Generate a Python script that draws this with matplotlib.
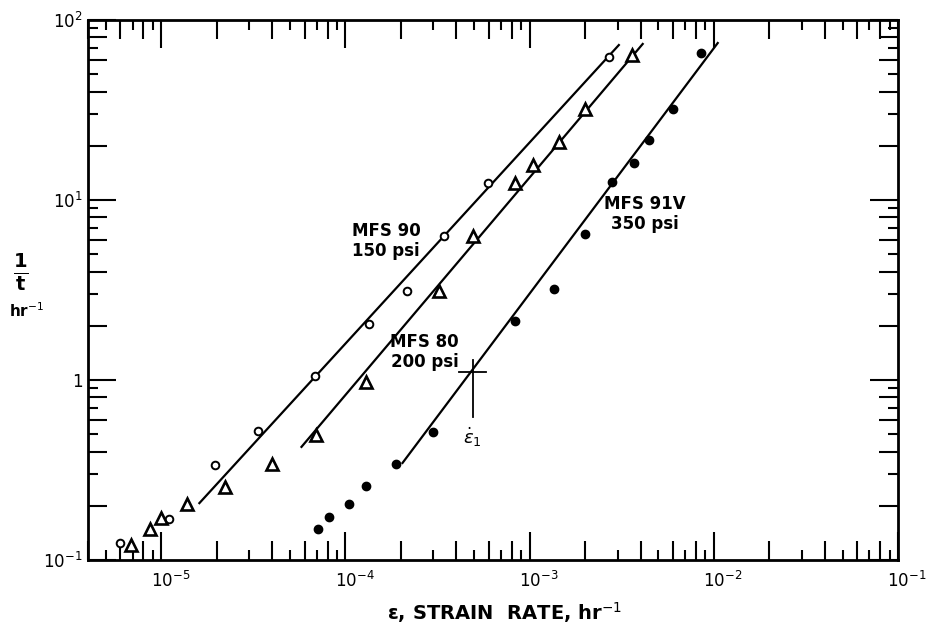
import numpy as np
import matplotlib
matplotlib.use("Agg")
import matplotlib.pyplot as plt
from matplotlib.ticker import LogLocator, NullFormatter
import matplotlib.transforms as mtransforms

plt.rcParams['font.family'] = ['DejaVu Sans']
plt.rcParams['mathtext.fontset'] = 'dejavusans'

# ---- data ----
# MFS 90, 150 psi (open circles)
mfs90_rate = [5.98e-6, 1.10e-5, 1.96e-5, 3.37e-5, 6.87e-5, 1.35e-4, 2.17e-4, 3.41e-4, 5.92e-4, 2.69e-3]
mfs90_inv_t = [0.124, 0.169, 0.337, 0.521, 1.05, 2.05, 3.12, 6.31, 12.4, 62.3]
mfs90_fit_rate = [1.61e-5, 3.05e-3]
mfs90_fit_inv_t = [0.207, 72.6]

# MFS 80, 200 psi (open triangles)
mfs80_rate = [6.87e-6, 8.71e-6, 1.0e-5, 1.38e-5, 2.23e-5, 4.01e-5, 6.95e-5, 1.29e-4,
              3.20e-4, 4.90e-4, 8.28e-4, 1.04e-3, 1.44e-3, 2.01e-3, 3.58e-3]
mfs80_inv_t = [0.121, 0.149, 0.171, 0.205, 0.255, 0.341, 0.494, 0.975,
               3.12, 6.31, 12.4, 15.7, 21.0, 32.0, 63.9]
mfs80_fit_rate = [5.77e-5, 4.11e-3]
mfs80_fit_inv_t = [0.425, 73.6]

# MFS 91V, 350 psi (filled circles)
mfs91v_rate = [7.05e-5, 8.19e-5, 1.04e-4, 1.30e-4, 1.89e-4, 2.97e-4, 8.28e-4,
               1.35e-3, 1.99e-3, 2.79e-3, 3.67e-3, 4.44e-3, 5.99e-3, 8.49e-3]
mfs91v_inv_t = [0.149, 0.173, 0.205, 0.258, 0.341, 0.514, 2.13,
                3.20, 6.47, 12.6, 16.1, 21.5, 32.0, 65.6]
mfs91v_fit_rate = [2.04e-4, 1.05e-2]
mfs91v_fit_inv_t = [0.346, 74.5]

# epsilon_1 marker
eps1_rate = 4.9e-4
eps1_inv_t = 1.11
eps1_vert = [0.623, 1.29]
eps1_horiz = [4.11e-4, 5.83e-4]

x_tick_vals = [1e-5, 1e-4, 1e-3, 1e-2, 1e-1]
x_tick_labels = [r'$10^{-5}$', r'$10^{-4}$', r'$10^{-3}$', r'$10^{-2}$', r'$10^{-1}$']
y_tick_vals = [1e-1, 1, 1e1, 1e2]
y_tick_labels = [r'$10^{-1}$', '1', r'$10^{1}$', r'$10^{2}$']

# ---- figure ----
W, H = 927, 628
fig = plt.figure(figsize=(W / 100, H / 100), dpi=100)
ax = fig.add_axes([88 / W, 1 - 560 / H, (898 - 88) / W, (560 - 20) / H])
ax.set_xscale('log')
ax.set_yscale('log')
ax.set_xlim(4e-6, 1e-1)
ax.set_ylim(1e-1, 1e2)

lw_fit = 1.6
ax.plot(mfs90_fit_rate, mfs90_fit_inv_t, color='black', lw=lw_fit)
ax.plot(mfs80_fit_rate, mfs80_fit_inv_t, color='black', lw=lw_fit)
ax.plot(mfs91v_fit_rate, mfs91v_fit_inv_t, color='black', lw=lw_fit)

ax.plot(mfs90_rate, mfs90_inv_t, linestyle='none', marker='o', ms=5.5,
        mfc='white', mec='black', mew=1.4, zorder=5)
ax.plot(mfs80_rate, mfs80_inv_t, linestyle='none', marker='^', ms=8.5,
        mfc='white', mec='black', mew=1.9, zorder=5)
ax.plot(mfs91v_rate, mfs91v_inv_t, linestyle='none', marker='o', ms=6,
        mfc='black', mec='black', zorder=5)

# epsilon_1 cross
ax.plot([eps1_rate, eps1_rate], eps1_vert, color='black', lw=1.3)
ax.plot(eps1_horiz, [eps1_inv_t, eps1_inv_t], color='black', lw=1.3)
ax.text(eps1_rate, 0.48, r'$\dot{\varepsilon}_{1}$', ha='center', va='center', fontsize=13)

# annotations
ax.text(1.09e-4, 7.55, 'MFS 90\n150 psi', ha='left', va='top', fontsize=12,
        fontweight='bold', linespacing=1.15)
ax.text(2.69e-4, 1.82, 'MFS 80\n200 psi', ha='center', va='top', fontsize=12,
        fontweight='bold', linespacing=1.1, multialignment='center')
ax.text(4.22e-3, 10.7, 'MFS 91V\n350 psi', ha='center', va='top', fontsize=12,
        fontweight='bold', linespacing=1.15, multialignment='center')

# axes styling
for s in ax.spines.values():
    s.set_linewidth(2.0)
ax.xaxis.set_major_locator(LogLocator(base=10, numticks=50))
ax.yaxis.set_major_locator(LogLocator(base=10, numticks=50))
ax.xaxis.set_minor_locator(LogLocator(base=10, subs=np.arange(2, 10), numticks=50))
ax.yaxis.set_minor_locator(LogLocator(base=10, subs=np.arange(2, 10), numticks=50))
ax.set_xticks(x_tick_vals, labels=x_tick_labels)
ax.set_yticks(y_tick_vals, labels=y_tick_labels)
ax.xaxis.set_minor_formatter(NullFormatter())
ax.yaxis.set_minor_formatter(NullFormatter())
ax.tick_params(which='both', direction='in', top=True, right=True, width=1.5, colors='black')
ax.tick_params(which='major', length=20, labelsize=12)
ax.tick_params(axis='x', which='major', pad=8)
ax.tick_params(axis='y', which='major', pad=4)

fig.canvas.draw()
for axis in (ax.xaxis, ax.yaxis):
    locs = axis.get_minorticklocs()
    ticks = axis.get_minor_ticks(len(locs))
    for loc, t in zip(locs, ticks):
        m = int(round(loc / 10 ** np.floor(np.log10(loc) + 1e-9)))
        L = 14 if m % 2 == 0 else 7
        t.tick1line.set_markersize(L)
        t.tick2line.set_markersize(L)

offset = mtransforms.ScaledTranslation(9 / 100, 0, fig.dpi_scale_trans)
for lab in ax.get_xticklabels():
    lab.set_transform(lab.get_transform() + offset)

# axis labels
fig.text(505 / W, 1 - 613 / H, r'ε, STRAIN  RATE, hr$^{-1}$', ha='center', va='center',
         fontsize=14, fontweight='bold')
fig.text(21 / W, 1 - 272 / H, r'$\frac{\mathbf{1}}{\mathbf{t}}$', ha='center', va='center',
         fontsize=20)
fig.text(27 / W, 1 - 311 / H, r'hr$^{-1}$', ha='center', va='center', fontsize=11,
         fontweight='bold')

fig.savefig('out.png', dpi=100)
